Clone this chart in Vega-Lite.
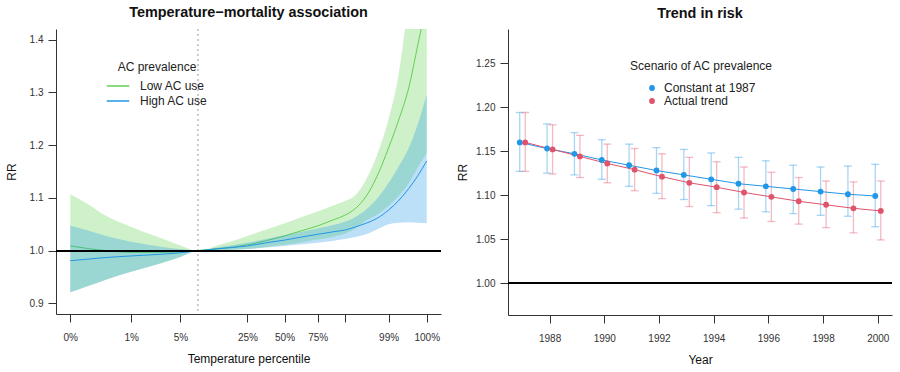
{
  "$schema": "https://vega.github.io/schema/vega-lite/v6.json",
  "padding": {"left": 5, "top": 5, "right": 5, "bottom": 5},
  "spacing": 14,
  "resolve": {"scale": {"color": "independent"}, "legend": {"color": "independent"}},
  "config": {
    "font": "Liberation Sans",
    "view": {"stroke": null},
    "axis": {"grid": false, "domainColor": "#333", "tickColor": "#333", "labelColor": "#333", "labelFontSize": 10, "titleFontSize": 12, "titleFontWeight": "normal", "titleColor": "#111", "domainWidth": 1, "tickWidth": 1, "labelOverlap": false, "labelFlush": false},
    "axisX": {"tickSize": 8, "labelPadding": 10, "titlePadding": 11},
    "axisY": {"tickSize": 8, "labelPadding": 5, "titlePadding": 11},
    "title": {"fontSize": 14.4, "fontWeight": "bold", "offset": 8, "color": "#111"},
    "legend": {"titleFontSize": 12, "titleFontWeight": "normal", "labelFontSize": 12, "titleColor": "#222", "labelColor": "#222", "titleAnchor": "middle"}
  },
  "datasets": {
    "curves": [
      {"group": "Low AC use", "u": 0, "mid": 1.009, "lo": 0.921, "hi": 1.107},
      {"group": "Low AC use", "u": 5, "mid": 1.004, "lo": 0.933, "hi": 1.088},
      {"group": "Low AC use", "u": 10, "mid": 1.0, "lo": 0.945, "hi": 1.066},
      {"group": "Low AC use", "u": 17.1, "mid": 0.997, "lo": 0.96, "hi": 1.045},
      {"group": "Low AC use", "u": 25, "mid": 0.997, "lo": 0.975, "hi": 1.025},
      {"group": "Low AC use", "u": 30.9, "mid": 0.998, "lo": 0.988, "hi": 1.01},
      {"group": "Low AC use", "u": 35.7, "mid": 1.0, "lo": 1.0, "hi": 1.0},
      {"group": "Low AC use", "u": 42, "mid": 1.004, "lo": 1.0, "hi": 1.011},
      {"group": "Low AC use", "u": 49.7, "mid": 1.011, "lo": 1.003, "hi": 1.028},
      {"group": "Low AC use", "u": 55, "mid": 1.019, "lo": 1.007, "hi": 1.04},
      {"group": "Low AC use", "u": 60.1, "mid": 1.028, "lo": 1.011, "hi": 1.052},
      {"group": "Low AC use", "u": 65, "mid": 1.038, "lo": 1.016, "hi": 1.064},
      {"group": "Low AC use", "u": 69.4, "mid": 1.047, "lo": 1.021, "hi": 1.074},
      {"group": "Low AC use", "u": 74, "mid": 1.059, "lo": 1.027, "hi": 1.086},
      {"group": "Low AC use", "u": 77, "mid": 1.067, "lo": 1.032, "hi": 1.094},
      {"group": "Low AC use", "u": 80, "mid": 1.08, "lo": 1.042, "hi": 1.105},
      {"group": "Low AC use", "u": 83, "mid": 1.103, "lo": 1.057, "hi": 1.135},
      {"group": "Low AC use", "u": 86, "mid": 1.14, "lo": 1.068, "hi": 1.18},
      {"group": "Low AC use", "u": 89.3, "mid": 1.195, "lo": 1.085, "hi": 1.25},
      {"group": "Low AC use", "u": 92, "mid": 1.245, "lo": 1.103, "hi": 1.33},
      {"group": "Low AC use", "u": 95, "mid": 1.31, "lo": 1.128, "hi": 1.48},
      {"group": "Low AC use", "u": 97.5, "mid": 1.39, "lo": 1.158, "hi": 1.62},
      {"group": "Low AC use", "u": 100, "mid": 1.47, "lo": 1.185, "hi": 1.78},
      {"group": "High AC use", "u": 0, "mid": 0.981, "lo": 0.921, "hi": 1.047},
      {"group": "High AC use", "u": 5, "mid": 0.984, "lo": 0.933, "hi": 1.038},
      {"group": "High AC use", "u": 10, "mid": 0.987, "lo": 0.945, "hi": 1.028},
      {"group": "High AC use", "u": 17.1, "mid": 0.99, "lo": 0.96, "hi": 1.017},
      {"group": "High AC use", "u": 25, "mid": 0.993, "lo": 0.975, "hi": 1.008},
      {"group": "High AC use", "u": 30.9, "mid": 0.996, "lo": 0.988, "hi": 1.003},
      {"group": "High AC use", "u": 35.7, "mid": 1.0, "lo": 1.0, "hi": 1.0},
      {"group": "High AC use", "u": 42, "mid": 1.004, "lo": 1.001, "hi": 1.007},
      {"group": "High AC use", "u": 49.7, "mid": 1.009, "lo": 1.003, "hi": 1.015},
      {"group": "High AC use", "u": 55, "mid": 1.015, "lo": 1.006, "hi": 1.022},
      {"group": "High AC use", "u": 60.1, "mid": 1.02, "lo": 1.009, "hi": 1.029},
      {"group": "High AC use", "u": 65, "mid": 1.026, "lo": 1.012, "hi": 1.036},
      {"group": "High AC use", "u": 69.4, "mid": 1.031, "lo": 1.015, "hi": 1.042},
      {"group": "High AC use", "u": 74, "mid": 1.036, "lo": 1.019, "hi": 1.049},
      {"group": "High AC use", "u": 77, "mid": 1.039, "lo": 1.022, "hi": 1.055},
      {"group": "High AC use", "u": 80, "mid": 1.045, "lo": 1.026, "hi": 1.064},
      {"group": "High AC use", "u": 83, "mid": 1.052, "lo": 1.031, "hi": 1.078},
      {"group": "High AC use", "u": 86, "mid": 1.061, "lo": 1.04, "hi": 1.098},
      {"group": "High AC use", "u": 89.3, "mid": 1.077, "lo": 1.05, "hi": 1.128},
      {"group": "High AC use", "u": 92, "mid": 1.094, "lo": 1.053, "hi": 1.158},
      {"group": "High AC use", "u": 95, "mid": 1.118, "lo": 1.054, "hi": 1.195},
      {"group": "High AC use", "u": 97.5, "mid": 1.142, "lo": 1.053, "hi": 1.24},
      {"group": "High AC use", "u": 100, "mid": 1.17, "lo": 1.052, "hi": 1.296}
    ],
    "trend": [
      {"scenario": "Constant at 1987", "year": 1987, "rr": 1.16, "lo": 1.127, "hi": 1.194},
      {"scenario": "Constant at 1987", "year": 1988, "rr": 1.153, "lo": 1.125, "hi": 1.181},
      {"scenario": "Constant at 1987", "year": 1989, "rr": 1.147, "lo": 1.123, "hi": 1.171},
      {"scenario": "Constant at 1987", "year": 1990, "rr": 1.14, "lo": 1.118, "hi": 1.163},
      {"scenario": "Constant at 1987", "year": 1991, "rr": 1.134, "lo": 1.11, "hi": 1.158},
      {"scenario": "Constant at 1987", "year": 1992, "rr": 1.128, "lo": 1.102, "hi": 1.154},
      {"scenario": "Constant at 1987", "year": 1993, "rr": 1.123, "lo": 1.095, "hi": 1.152},
      {"scenario": "Constant at 1987", "year": 1994, "rr": 1.118, "lo": 1.088, "hi": 1.148},
      {"scenario": "Constant at 1987", "year": 1995, "rr": 1.113, "lo": 1.084, "hi": 1.143},
      {"scenario": "Constant at 1987", "year": 1996, "rr": 1.11, "lo": 1.081, "hi": 1.139},
      {"scenario": "Constant at 1987", "year": 1997, "rr": 1.107, "lo": 1.079, "hi": 1.134},
      {"scenario": "Constant at 1987", "year": 1998, "rr": 1.104, "lo": 1.077, "hi": 1.132},
      {"scenario": "Constant at 1987", "year": 1999, "rr": 1.101, "lo": 1.076, "hi": 1.133},
      {"scenario": "Constant at 1987", "year": 2000, "rr": 1.099, "lo": 1.064, "hi": 1.135},
      {"scenario": "Actual trend", "year": 1987, "rr": 1.16, "lo": 1.127, "hi": 1.194},
      {"scenario": "Actual trend", "year": 1988, "rr": 1.152, "lo": 1.124, "hi": 1.18},
      {"scenario": "Actual trend", "year": 1989, "rr": 1.144, "lo": 1.12, "hi": 1.168},
      {"scenario": "Actual trend", "year": 1990, "rr": 1.136, "lo": 1.114, "hi": 1.158},
      {"scenario": "Actual trend", "year": 1991, "rr": 1.129, "lo": 1.105, "hi": 1.153},
      {"scenario": "Actual trend", "year": 1992, "rr": 1.121, "lo": 1.096, "hi": 1.147},
      {"scenario": "Actual trend", "year": 1993, "rr": 1.114, "lo": 1.087, "hi": 1.143},
      {"scenario": "Actual trend", "year": 1994, "rr": 1.109, "lo": 1.08, "hi": 1.138},
      {"scenario": "Actual trend", "year": 1995, "rr": 1.103, "lo": 1.074, "hi": 1.132},
      {"scenario": "Actual trend", "year": 1996, "rr": 1.098, "lo": 1.07, "hi": 1.126},
      {"scenario": "Actual trend", "year": 1997, "rr": 1.093, "lo": 1.067, "hi": 1.12},
      {"scenario": "Actual trend", "year": 1998, "rr": 1.089, "lo": 1.063, "hi": 1.116},
      {"scenario": "Actual trend", "year": 1999, "rr": 1.085, "lo": 1.057, "hi": 1.115},
      {"scenario": "Actual trend", "year": 2000, "rr": 1.082, "lo": 1.049, "hi": 1.116}
    ]
  },
  "hconcat": [
    {
      "width": 385,
      "height": 285,
      "title": "Temperature−mortality association",
      "data": {"name": "curves"},
      "layer": [
        {
          "transform": [{"filter": "datum.group === 'Low AC use'"}],
          "mark": {"type": "area", "color": "#61D04F", "opacity": 0.3, "clip": true, "interpolate": "monotone"},
          "encoding": {
            "x": {"field": "u", "type": "quantitative", "scale": {"domain": [-4, 104], "nice": false, "zero": false},
              "axis": {"title": "Temperature percentile", "values": [0, 17.1, 30.9, 49.7, 60.1, 69.4, 77, 89.3, 100],
                "labelExpr": "datum.value == 0 ? '0%' : datum.value == 17.1 ? '1%' : datum.value == 30.9 ? '5%' : datum.value == 49.7 ? '25%' : datum.value == 60.1 ? '50%' : datum.value == 69.4 ? '75%' : datum.value == 89.3 ? '99%' : datum.value == 100 ? '100%' : ''"}},
            "y": {"field": "lo", "type": "quantitative", "title": "RR", "scale": {"domain": [0.88, 1.42], "nice": false, "zero": false}, "axis": {"values": [0.9, 1.0, 1.1, 1.2, 1.3, 1.4], "format": ".1f"}},
            "y2": {"field": "hi"}
          }
        },
        {
          "transform": [{"filter": "datum.group === 'Low AC use'"}],
          "mark": {"type": "line", "strokeWidth": 1, "clip": true, "interpolate": "monotone"},
          "encoding": {
            "x": {"field": "u", "type": "quantitative", "title": "Temperature percentile"},
            "y": {"field": "mid", "type": "quantitative", "title": "RR"},
            "color": {"field": "group", "type": "nominal", "scale": {"domain": ["Low AC use", "High AC use"], "range": ["#61D04F", "#2297E6"]},
              "legend": {"title": "AC prevalence", "orient": "none", "legendX": 50, "legendY": 33, "symbolType": "stroke", "symbolSize": 500, "symbolStrokeWidth": 1.3, "clipHeight": 14, "rowPadding": 1, "titlePadding": 5, "labelOffset": 10}}
          }
        },
        {
          "transform": [{"filter": "datum.group === 'High AC use'"}],
          "mark": {"type": "area", "color": "#2297E6", "opacity": 0.3, "clip": true, "interpolate": "monotone"},
          "encoding": {
            "x": {"field": "u", "type": "quantitative", "title": "Temperature percentile"},
            "y": {"field": "lo", "type": "quantitative", "title": "RR"},
            "y2": {"field": "hi"}
          }
        },
        {
          "transform": [{"filter": "datum.group === 'High AC use'"}],
          "mark": {"type": "line", "strokeWidth": 1, "clip": true, "interpolate": "monotone"},
          "encoding": {
            "x": {"field": "u", "type": "quantitative", "title": "Temperature percentile"},
            "y": {"field": "mid", "type": "quantitative", "title": "RR"},
            "color": {"field": "group", "type": "nominal",
              "legend": {"title": "AC prevalence", "orient": "none", "legendX": 50, "legendY": 33, "symbolType": "stroke", "symbolSize": 500, "symbolStrokeWidth": 1.3, "clipHeight": 14, "rowPadding": 1, "titlePadding": 5, "labelOffset": 10}}
          }
        },
        {
          "mark": {"type": "rule", "color": "#c8c8c8", "strokeDash": [2, 3], "strokeWidth": 1},
          "encoding": {"x": {"datum": 35.7}}
        },
        {
          "mark": {"type": "rule", "color": "#000000", "strokeWidth": 0.8},
          "encoding": {"y": {"datum": 1.0}}
        }
      ]
    },
    {
      "width": 384,
      "height": 286,
      "title": "Trend in risk",
      "data": {"name": "trend"},
      "layer": [
        {
          "transform": [{"filter": "datum.scenario === 'Constant at 1987'"}],
          "mark": {"type": "rule", "color": "#2297E6", "opacity": 0.4, "strokeWidth": 1.3, "xOffset": -2.5},
          "encoding": {
            "x": {"field": "year", "type": "quantitative", "scale": {"domain": [1986.48, 2000.52], "nice": false, "zero": false},
              "axis": {"title": "Year", "values": [1988, 1990, 1992, 1994, 1996, 1998, 2000], "format": "d"}},
            "y": {"field": "lo", "type": "quantitative", "title": "RR", "scale": {"domain": [0.9636, 1.289], "nice": false, "zero": false}, "axis": {"values": [1.0, 1.05, 1.1, 1.15, 1.2, 1.25], "format": ".2f", "titlePadding": 6}},
            "y2": {"field": "hi"}
          }
        },
        {
          "transform": [{"filter": "datum.scenario === 'Constant at 1987'"}],
          "mark": {"type": "tick", "color": "#2297E6", "orient": "horizontal", "opacity": 0.4, "size": 8, "thickness": 1.3, "xOffset": -2.5},
          "encoding": {
            "x": {"field": "year", "type": "quantitative", "title": "Year"},
            "y": {"field": "lo", "type": "quantitative", "title": "RR"}
          }
        },
        {
          "transform": [{"filter": "datum.scenario === 'Constant at 1987'"}],
          "mark": {"type": "tick", "color": "#2297E6", "orient": "horizontal", "opacity": 0.4, "size": 8, "thickness": 1.3, "xOffset": -2.5},
          "encoding": {
            "x": {"field": "year", "type": "quantitative", "title": "Year"},
            "y": {"field": "hi", "type": "quantitative", "title": "RR"}
          }
        },
        {
          "transform": [{"filter": "datum.scenario === 'Actual trend'"}],
          "mark": {"type": "rule", "color": "#DF536B", "opacity": 0.4, "strokeWidth": 1.3, "xOffset": 3},
          "encoding": {
            "x": {"field": "year", "type": "quantitative", "title": "Year"},
            "y": {"field": "lo", "type": "quantitative", "title": "RR"},
            "y2": {"field": "hi"}
          }
        },
        {
          "transform": [{"filter": "datum.scenario === 'Actual trend'"}],
          "mark": {"type": "tick", "color": "#DF536B", "orient": "horizontal", "opacity": 0.4, "size": 8, "thickness": 1.3, "xOffset": 3},
          "encoding": {
            "x": {"field": "year", "type": "quantitative", "title": "Year"},
            "y": {"field": "lo", "type": "quantitative", "title": "RR"}
          }
        },
        {
          "transform": [{"filter": "datum.scenario === 'Actual trend'"}],
          "mark": {"type": "tick", "color": "#DF536B", "orient": "horizontal", "opacity": 0.4, "size": 8, "thickness": 1.3, "xOffset": 3},
          "encoding": {
            "x": {"field": "year", "type": "quantitative", "title": "Year"},
            "y": {"field": "hi", "type": "quantitative", "title": "RR"}
          }
        },
        {
          "transform": [{"filter": "datum.scenario === 'Constant at 1987'"}],
          "mark": {"type": "line", "color": "#2297E6", "strokeWidth": 1, "xOffset": -2.5},
          "encoding": {
            "x": {"field": "year", "type": "quantitative", "title": "Year"},
            "y": {"field": "rr", "type": "quantitative", "title": "RR"}
          }
        },
        {
          "transform": [{"filter": "datum.scenario === 'Actual trend'"}],
          "mark": {"type": "line", "color": "#DF536B", "strokeWidth": 1, "xOffset": 3},
          "encoding": {
            "x": {"field": "year", "type": "quantitative", "title": "Year"},
            "y": {"field": "rr", "type": "quantitative", "title": "RR"}
          }
        },
        {
          "transform": [{"filter": "datum.scenario === 'Constant at 1987'"}],
          "mark": {"type": "point", "filled": true, "size": 34, "opacity": 1, "xOffset": -2.5},
          "encoding": {
            "x": {"field": "year", "type": "quantitative", "title": "Year"},
            "y": {"field": "rr", "type": "quantitative", "title": "RR"},
            "color": {"field": "scenario", "type": "nominal", "scale": {"domain": ["Constant at 1987", "Actual trend"], "range": ["#2297E6", "#DF536B"]},
              "legend": {"title": "Scenario of AC prevalence", "orient": "none", "legendX": 122, "legendY": 32, "symbolType": "circle", "symbolSize": 34, "rowPadding": 1, "titlePadding": 9, "labelOffset": 6}}
          }
        },
        {
          "transform": [{"filter": "datum.scenario === 'Actual trend'"}],
          "mark": {"type": "point", "filled": true, "size": 34, "opacity": 1, "xOffset": 3},
          "encoding": {
            "x": {"field": "year", "type": "quantitative", "title": "Year"},
            "y": {"field": "rr", "type": "quantitative", "title": "RR"},
            "color": {"field": "scenario", "type": "nominal",
              "legend": {"title": "Scenario of AC prevalence", "orient": "none", "legendX": 122, "legendY": 32, "symbolType": "circle", "symbolSize": 34, "rowPadding": 1, "titlePadding": 9, "labelOffset": 6}}
          }
        },
        {
          "mark": {"type": "rule", "color": "#000000", "strokeWidth": 0.8},
          "encoding": {"y": {"datum": 1.0}}
        }
      ]
    }
  ]
}
